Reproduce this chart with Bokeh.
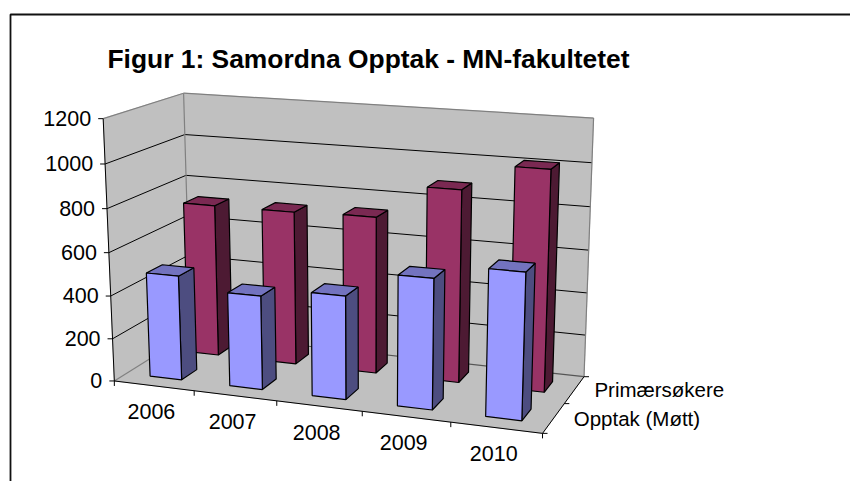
import numpy as np
from bokeh.plotting import figure
from bokeh.core.properties import value
from bokeh.embed import file_html
from bokeh.resources import INLINE

title = "Figur 1: Samordna Opptak - MN-fakultetet"
years = ["2006", "2007", "2008", "2009", "2010"]
series_names = ["Opptak (Møtt)", "Primærsøkere"]
opptak = [488, 434, 473, 589, 653]
primaer = [728, 729, 737, 893, 1013]
y_ticks = [0, 200, 400, 600, 800, 1000, 1200]
y_max = 1200

FONT = value("Liberation Sans")
WALL = "#C0C0C0"
colors = {
    0: ("#9999FF", "#7373BF", "#4D4D80"),
    1: ("#993366", "#7A2952", "#4D1A33"),
}

# Camera calibration: (category, depth, value) -> screen pixel
calib = [
    (0, 0, 0, 114, 379), (0, 0, 1200, 103, 119), (0, 2, 1200, 183, 92),
    (5, 2, 1200, 594, 118), (5, 2, 0, 583, 375), (5, 0, 0, 543, 434),
    (0, 2, 0, 191, 336), (1, 0, 0, 193, 389.1), (2, 0, 0, 276, 399.8),
    (3, 0, 0, 362, 410.8), (4, 0, 0, 451, 422.2), (0, 2, 1000, 184.3, 133.3),
    (0, 2, 800, 185.7, 174), (5, 2, 1000, 591, 162), (5, 2, 800, 589, 206),
    (0, 0, 1000, 105, 165), (0, 0, 800, 106, 208.3), (0, 0, 600, 108, 252.3),
    (0, 0, 400, 110, 295), (0, 0, 200, 111.7, 337.7), (5, 1, 0, 563.3, 403.3),
]
rows = []
for cx, cy, cz, u, v in calib:
    P = [cx, cy, cz / 1000, 1]
    rows.append(P + [0, 0, 0, 0] + [-u * q for q in P])
    rows.append([0, 0, 0, 0] + P + [-v * q for q in P])
M = np.linalg.svd(np.array(rows, float))[2][-1].reshape(3, 4)


def proj(cx, cy, cz):
    h = M @ np.array([cx, cy, cz / 1000, 1.0])
    return h[0] / h[2], h[1] / h[2]


W, H = 850, 481
p = figure(width=W, height=H, x_range=(0, W), y_range=(H, 0), toolbar_location=None,
           output_backend="svg", min_border=0, outline_line_color=None,
           background_fill_color="white", border_fill_color="white")
p.axis.visible = False
p.grid.visible = False


def poly(pts, fill, line=None, lw=1.0):
    xs, ys = zip(*[proj(*q) for q in pts])
    p.patch(list(xs), list(ys), fill_color=fill, line_color=line or fill, line_width=lw)


def seg(a, b, color="black", lw=1.0):
    pa, pb = proj(*a), proj(*b)
    p.line([pa[0], pb[0]], [pa[1], pb[1]], line_color=color, line_width=lw)


# Chart-area frame
p.line([10, 10, W], [H, 14, 14], line_color="#111111", line_width=1.8)

# Walls and floor
poly([(0, 2, 0), (5, 2, 0), (5, 2, y_max), (0, 2, y_max)], WALL)
poly([(0, 0, 0), (0, 2, 0), (0, 2, y_max), (0, 0, y_max)], WALL)
poly([(0, 0, 0), (5, 0, 0), (5, 2, 0), (0, 2, 0)], WALL)

for t in y_ticks[1:-1]:
    seg((0, 0, t), (0, 2, t))
    seg((0, 2, t), (5, 2, t))
GREY = "#808080"
seg((0, 0, y_max), (0, 2, y_max), GREY, 1.2)
seg((0, 2, y_max), (5, 2, y_max), GREY, 1.2)
seg((5, 2, y_max), (5, 2, 0), GREY, 1.2)
seg((0, 2, y_max), (0, 2, 0), GREY, 1.2)
seg((0, 0, 0), (0, 2, 0), GREY, 1.2)
seg((0, 2, 0), (5, 2, 0), "#555555", 1.2)

# Axis lines and ticks
seg((0, 0, 0), (0, 0, y_max))
seg((0, 0, 0), (5, 0, 0))
seg((5, 0, 0), (5, 2, 0))
for t in y_ticks:
    u, v = proj(0, 0, t)
    p.line([u - 5, u], [v, v], line_color="black", line_width=1)
    p.text([u - 12], [v - 0.5], text=[str(t)], text_font=FONT, text_font_size="21.5px",
           text_align="right", text_baseline="middle", text_color="black")
for i in range(len(years) + 1):
    u, v = proj(i, 0, 0)
    p.line([u, u], [v, v + 5], line_color="black", line_width=1)
for i, y in enumerate(years):
    u, v = proj(i + 0.5, 0, 0)
    p.text([u - 2.5], [v + 26], text=[y], text_font=FONT, text_font_size="21.5px",
           text_align="center", text_baseline="middle", text_color="black")
for d in range(3):
    u, v = proj(5, d, 0)
    p.line([u, u + 5], [v, v], line_color="black", line_width=1)
for d, name in enumerate(series_names):
    u, v = proj(5, d + 0.5, 0)
    p.text([u + 20], [v], text=[name], text_font=FONT, text_font_size="20.5px",
           text_align="left", text_baseline="middle", text_color="black")


# Bars, back row first
def bar(i, s, val):
    front, top, side = colors[s]
    x0, x1 = i + 0.3, i + 0.7
    d0, d1 = s + 0.3, s + 0.7
    poly([(x1, d0, 0), (x1, d1, 0), (x1, d1, val), (x1, d0, val)], side, "black", 1.2)
    poly([(x0, d0, val), (x1, d0, val), (x1, d1, val), (x0, d1, val)], top, "black", 1.2)
    poly([(x0, d0, 0), (x1, d0, 0), (x1, d0, val), (x0, d0, val)], front, "black", 1.2)


for i, val in enumerate(primaer):
    bar(i, 1, val)
for i, val in enumerate(opptak):
    bar(i, 0, val)

# Title
p.text([107], [58], text=[title], text_font=FONT, text_font_size="26.4px", text_font_style="bold",
       text_align="left", text_baseline="middle", text_color="black")

open("out.html", "w").write(file_html(p, INLINE))
